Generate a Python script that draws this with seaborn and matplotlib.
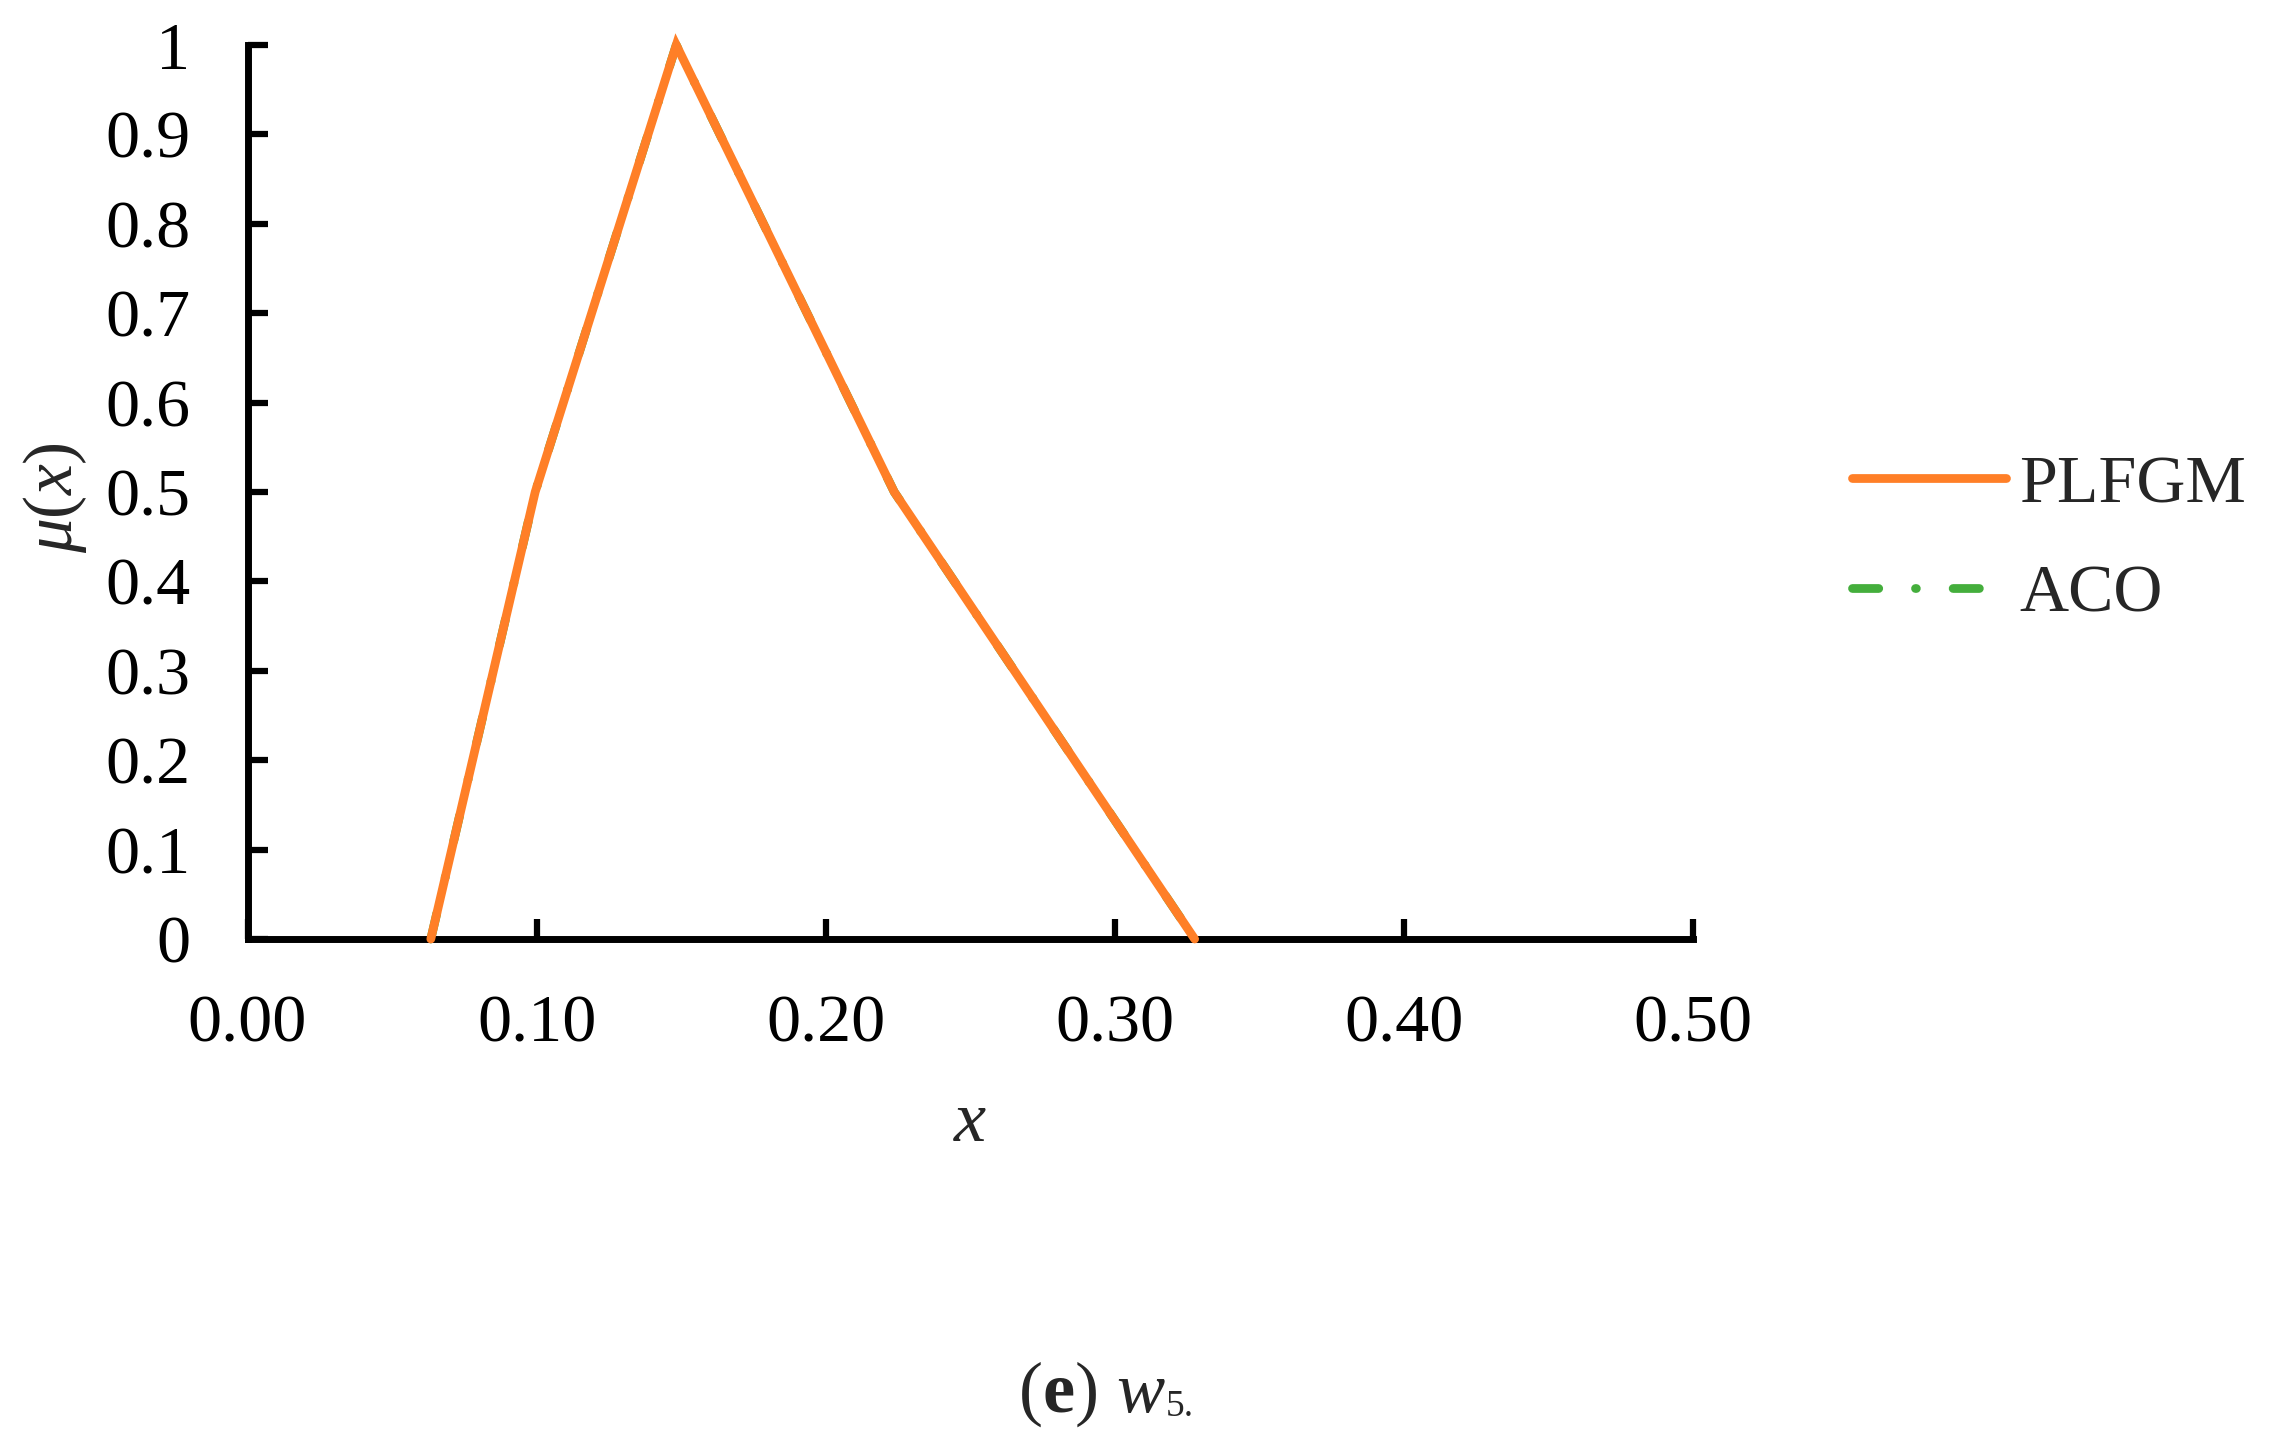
import matplotlib
matplotlib.use("Agg")
import matplotlib.pyplot as plt
import seaborn as sns
import pandas as pd

# data
x_plfgm = [0.0634, 0.0995, 0.1483, 0.2237, 0.3276]
y_plfgm = [0.0, 0.5, 1.0, 0.5, 0.0]
x_aco = [0.0634, 0.0995, 0.1483, 0.2237, 0.3276]
y_aco = [0.0, 0.5, 1.0, 0.5, 0.0]
x_ticks = [0.0, 0.1, 0.2, 0.3, 0.4, 0.5]
y_ticks = [0.0, 0.1, 0.2, 0.3, 0.4, 0.5, 0.6, 0.7, 0.8, 0.9, 1.0]
y_tick_labels = ["0", "0.1", "0.2", "0.3", "0.4", "0.5", "0.6", "0.7", "0.8", "0.9", "1"]
series_names = ["PLFGM", "ACO"]

sns.set_style("white")
plt.rcParams["font.family"] = ["Liberation Serif", "DejaVu Serif"]
plt.rcParams["mathtext.fontset"] = "custom"
plt.rcParams["mathtext.rm"] = "Liberation Serif"
plt.rcParams["mathtext.it"] = "Liberation Serif:italic"
plt.rcParams["mathtext.bf"] = "Liberation Serif:bold"

ORANGE = "#FF7F27"
GREEN = "#44AE3C"

fig = plt.figure(figsize=(22.75, 14.52), dpi=100)
ax = fig.add_axes([0.1088, 0.3533, 0.6354, 0.6157])

df_aco = pd.DataFrame({"x": x_aco, "y": y_aco})
df_pl = pd.DataFrame({"x": x_plfgm, "y": y_plfgm})

sns.lineplot(data=df_aco, x="x", y="y", ax=ax, color=GREEN, lw=6.3,
             linestyle=(0, (3, 4.2, 0.1, 4.2)), sort=False,
             label=series_names[1], clip_on=False, zorder=2)
sns.lineplot(data=df_pl, x="x", y="y", ax=ax, color=ORANGE, lw=6.3, sort=False,
             label=series_names[0], clip_on=False, zorder=3)
for ln in ax.get_lines():
    ln.set_solid_capstyle("round")
    ln.set_dash_capstyle("round")
    ln.set_solid_joinstyle("miter")

ax.set_xlim(0, 0.5)
ax.set_ylim(0, 1)
ax.set_xticks(x_ticks)
ax.set_xticklabels([f"{v:.2f}" for v in x_ticks])
ax.set_yticks(y_ticks)
ax.set_yticklabels(y_tick_labels)

for s in ["top", "right"]:
    ax.spines[s].set_visible(False)
for s in ["left", "bottom"]:
    ax.spines[s].set_color("black")
    ax.spines[s].set_linewidth(5)
    ax.spines[s].set_capstyle("projecting")

ax.tick_params(axis="both", direction="in", length=14.4, width=4.5,
               colors="black", labelsize=49, bottom=True, left=True)
ax.tick_params(axis="x", pad=40)
ax.tick_params(axis="y", pad=41)

ax.set_xlabel("$x$", fontsize=52)
ax.xaxis.label.set_va("center")
ax.xaxis.set_label_coords(0.5, -0.206)
ax.set_ylabel(r"$\mu(x)$", fontsize=50)
ax.yaxis.label.set_va("center")
ax.yaxis.set_label_coords(-0.133, 0.494)

handles, labels = ax.get_legend_handles_labels()
order = [labels.index(n) for n in series_names]
ax.legend([handles[i] for i in order], [labels[i] for i in order],
          loc="center left", bbox_to_anchor=(1852 / 2275, 1 - 540 / 1452),
          bbox_transform=fig.transFigure, frameon=False, fontsize=49,
          handlelength=2.26, handletextpad=0.2, labelspacing=0.7,
          borderpad=0, borderaxespad=0)

t1 = fig.text(1018 / 2275, 1 - 1412 / 1452, r"($\mathbf{e}$) $w$",
              fontsize=52, ha="left", va="baseline")
fig.canvas.draw()
bb = t1.get_window_extent()
fig.text(bb.x1 / fig.bbox.width, 1 - 1416 / 1452, "5.", fontsize=27,
         ha="left", va="baseline")

fig.savefig("out.png", dpi=100)
